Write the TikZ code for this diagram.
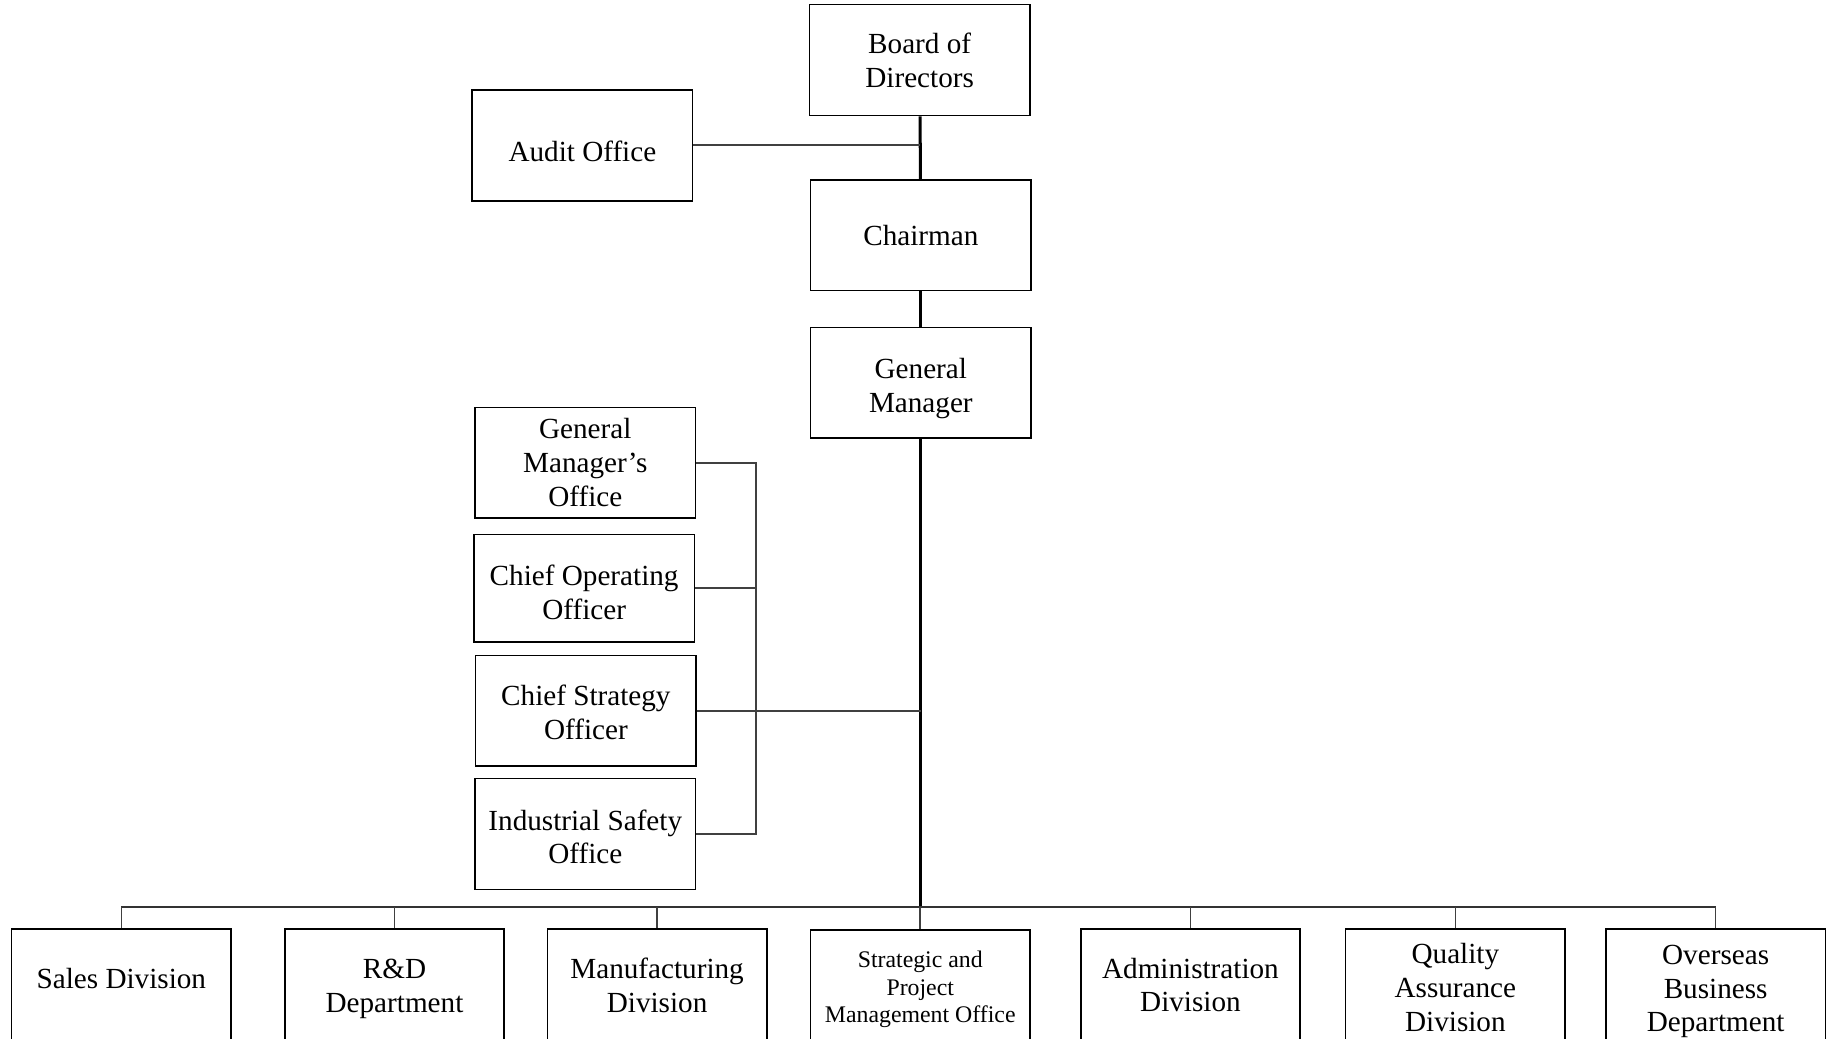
\documentclass[tikz,border=0pt]{standalone}
\usepackage{fontspec}
\setmainfont{Liberation Serif}
% nudge a text block inside its box: extra room above the first line
% moves the text down, extra room below the last line moves it up
\newcommand{\lowerby}[2]{\raisebox{0pt}[\dimexpr\height+#1*2\relax][\depth]{#2}}
\newcommand{\raiseby}[2]{\raisebox{0pt}[\height][\dimexpr\depth+#1*2\relax]{#2}}
\begin{document}
\begin{tikzpicture}[x=0.5pt,y=-0.5pt,
  box/.style={draw, line width=0.7pt, minimum width=94.5pt, minimum height=47.5pt,
    inner sep=1pt, align=center, font=\fontsize{12.5}{14.5}\selectfont},
  unit/.style={box, minimum width=94pt, minimum height=48pt},
  trunk/.style={line width=1.3pt},
  link/.style={line width=0.7pt, draw=black!75},
  bus/.style={line width=1pt, draw=black!80}]
\useasboundingbox (0,0) rectangle (1568,890);
\clip (0,0) rectangle (1568,890);

% top of the hierarchy
\node[box] (board) at (788,51.5) {Board of\\Directors};
\node[box] (audit) at (499,124.5) {\lowerby{2.5pt}{Audit Office}};
\node[box] (chair) at (789,201.5) {Chairman};
\node[box] (gm) at (789,328) {\lowerby{2.5pt}{General}\\Manager};

% staff offices under the general manager
\node[box] (gmo) at (501.5,396.5) {General\\Manager’s\\Office};
\node[box, minimum height=46pt] (coo) at (500.5,504) {\lowerby{1.75pt}{Chief Operating}\\Officer};
\node[box] (cso) at (502,609) {\lowerby{0.75pt}{Chief Strategy}\\Officer};
\node[box] (iso) at (501.5,714.5) {\lowerby{1.25pt}{Industrial Safety}\\Office};

% operating units
\node[unit] (sales) at (104,844) {\raiseby{3pt}{Sales Division}};
\node[unit] (rd) at (338,844) {\lowerby{1.75pt}{R\&D}\\Department};
\node[unit] (mfg) at (563,844) {Manufacturing\\Division};
\node[unit, minimum height=49pt, font=\fontsize{10.2}{11.75}\selectfont] (spmo) at (788.5,846) {\lowerby{1pt}{Strategic and}\\Project\\Management Office};
\node[unit] (adm) at (1020,844) {Administration\\Division};
\node[unit, minimum height=50pt] (qa) at (1247,846) {Quality\\Assurance\\Division};
\node[unit, minimum height=50pt] (ovs) at (1470,846) {\lowerby{1.75pt}{Overseas}\\Business\\Department};

\coordinate (bracket) at (648,0);
\coordinate (busline) at (789,777);

% main reporting line
\draw[trunk] (board) -- (chair);
\draw[trunk] (chair) -- (gm);
\draw[trunk] (gm.south) -- (busline);

% audit office
\draw[link] (audit.east) -- (audit.east -| board.south);

% staff offices
\draw[link] (gmo.east) -- (gmo.east -| bracket) |- (iso.east);
\draw[link] (coo.east) -- (coo.east -| bracket);
\draw[link] (cso.east) -- (cso.east -| gm.south);

% distribution bar to the operating units
\draw[bus] (sales.north |- busline) -- (ovs.north |- busline);
\foreach \u in {sales,rd,mfg,spmo,adm,qa,ovs}
  \draw[link] (\u.north |- busline) -- (\u.north);
\end{tikzpicture}
\end{document}
